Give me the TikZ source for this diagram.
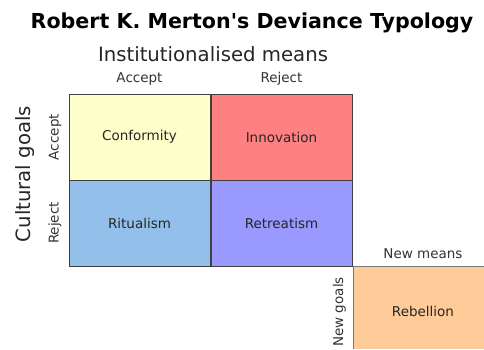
\documentclass[tikz,border=0pt]{standalone}
\usepackage{fontspec}
\setmainfont{DejaVu Sans}[Ligatures=TeXOff]
\usepackage{tikz}
\usetikzlibrary{positioning}

\definecolor{conformcol}{HTML}{FFFFCC}
\definecolor{innovcol}{HTML}{FF8080}
\definecolor{ritualcol}{HTML}{92C0EA}
\definecolor{retreatcol}{HTML}{9999FF}
\definecolor{rebelcol}{HTML}{FFCC99}
\definecolor{edgecol}{HTML}{404040}

\begin{document}
\begin{tikzpicture}[x=1pt, y=-1pt,
        cell/.style = {draw = edgecol, line width = 1pt, minimum width = 141pt,
                       minimum height = 86pt, inner sep = 0pt, outer sep = 0pt,
                       font = \fontsize{13.5}{15}\selectfont, text = black!85},
        small/.style = {font = \fontsize{13.5}{15}\selectfont, text = black!80},
        big/.style = {font = \fontsize{19.7}{22}\selectfont, text = black!85}]
                \useasboundingbox (0, 0) rectangle (484, 349);
                \node[font = \bfseries\fontsize{20.6}{24}\selectfont] (title) at (252, 23) {Robert K. Merton's Deviance Typology};
                \node[big] (means) at (213, 54) {Institutionalised means};
                \node[big, rotate = 90] (goals) at (25.5, 174) {Cultural goals};
                % the four cells
                \node[cell, fill = conformcol] (conformity) at (139.5, 137) {Conformity};
                \node[cell, fill = innovcol] (innovation) at (281.5, 137) {Innovation};
                \node[cell, fill = ritualcol] (ritualism) at (139.5, 223) {Ritualism};
                \node[cell, fill = retreatcol] (retreatism) at (281.5, 223) {Retreatism};
                \node[small, above = 5pt of conformity] (accmeans) {Accept};
                \node[small, above = 5pt of innovation] (rejmeans) {Reject};
                \node[small, rotate = 90, left = 4pt of conformity, anchor = south] (accgoals) {Accept};
                \node[small, rotate = 90, left = 4pt of ritualism, anchor = south] (rejgoals) {Reject};
                % rebellion, cut by the edge
                \fill[rebelcol] (353, 266) rectangle (484, 349);
                \draw[edgecol!70, line width = 1pt] (353, 349) -- (353, 266) -- (484, 266);
                \node[cell, draw = none, fill = none] (rebellion) at (423, 311.5) {Rebellion};
                \node[small] (newmeans) at (423, 254) {New means};
                \node[small, rotate = 90] (newgoals) at (339.5, 312) {New goals};
            \end{tikzpicture}
\end{document}
